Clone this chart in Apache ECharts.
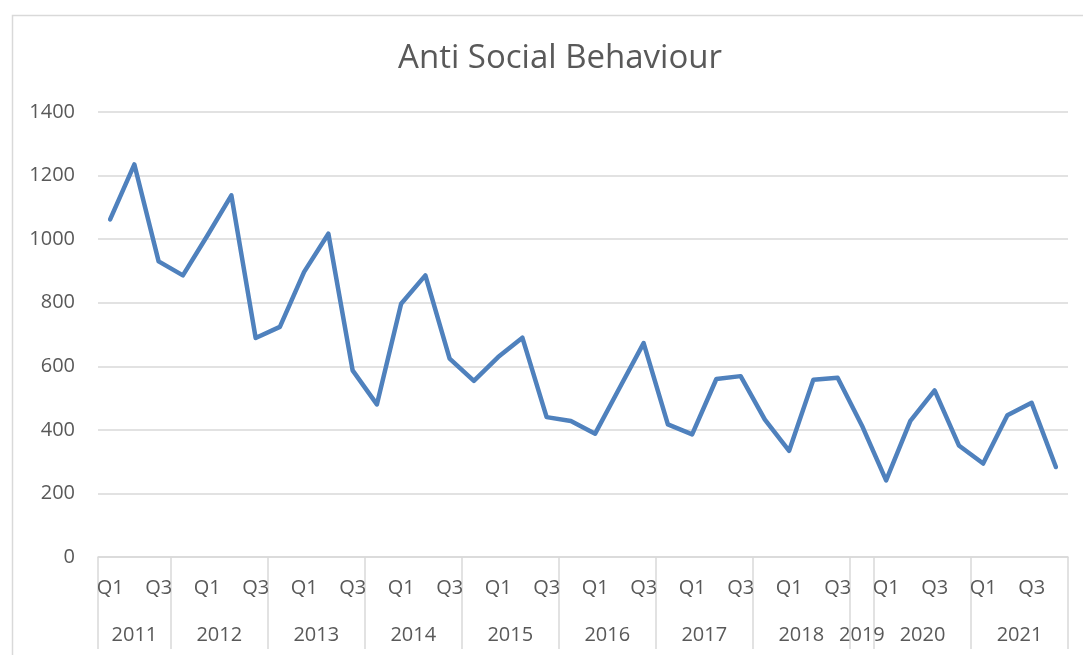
<!DOCTYPE html>
<html>
<head>
<meta charset="utf-8">
<script src="https://cdn.jsdelivr.net/npm/echarts@6/dist/echarts.min.js"></script>
<style>
html,body{margin:0;padding:0;background:#fff;}
#chart{width:1083px;height:655px;}
</style>
</head>
<body>
<div id="chart"></div>
<script>
// ---- data ----
const quarterLabels = ['Q1','Q2','Q3','Q4','Q1','Q2','Q3','Q4','Q1','Q2','Q3','Q4','Q1','Q2','Q3','Q4','Q1','Q2','Q3','Q4','Q1','Q2','Q3','Q4','Q1','Q2','Q3','Q4','Q1','Q2','Q3','Q4','Q1','Q2','Q3','Q4','Q1','Q2','Q3','Q4'];
const yearLabels = ['2011','2012','2013','2014','2015','2016','2017','2018','2019','2020','2021'];
const yearQuarterCounts = [3,4,4,4,4,4,4,4,1,4,4];
const antiSocial = [1062,1235,930,886,1010,1138,689,724,897,1017,587,480,797,886,624,554,629,690,440,428,388,531,673,417,386,560,569,432,334,558,564,414,241,428,524,351,294,446,485,283];
const yTicks = [0,200,400,600,800,1000,1200,1400];

// year group boundaries / centres on the category scale
const boundaries = [0];
const centres = [];
const centreMap = {};
yearQuarterCounts.forEach((c, i) => {
  const start = boundaries[boundaries.length - 1];
  const mid = start + c / 2;
  centres.push(mid);
  centreMap[mid] = yearLabels[i];
  boundaries.push(start + c);
});

const gridCol = '#d9d9d9';
const txt = '#595959';
const font = '"Open Sans", "Liberation Sans", sans-serif';

const chart = echarts.init(document.getElementById('chart'));
chart.setOption({
  animation: false,
  backgroundColor: '#fff',
  graphic: [{
    type: 'rect', left: 10, top: 13, z: -1,
    shape: { width: 1200, height: 800 },
    style: { fill: 'none', stroke: gridCol, lineWidth: 1.5 }
  }],
  title: {
    text: 'Anti Social Behaviour',
    left: 555, top: 37, textAlign: 'center',
    textStyle: { color: txt, fontFamily: font, fontSize: 33, fontWeight: 'normal' }
  },
  grid: { left: 98, right: 15, top: 112, bottom: 98, containLabel: false },
  xAxis: [{
    type: 'category',
    data: quarterLabels,
    boundaryGap: true,
    axisLine: { show: true, lineStyle: { color: gridCol, width: 1.5 } },
    axisTick: { show: false },
    axisLabel: { interval: 1, color: txt, fontFamily: font, fontSize: 20, margin: 21 },
    splitLine: { show: false }
  }, {
    type: 'value',
    position: 'bottom',
    min: 0, max: quarterLabels.length,
    axisLine: { show: false },
    axisTick: { show: true, customValues: boundaries, length: 92, inside: false,
      lineStyle: { color: gridCol, width: 1.5 } },
    axisLabel: { show: true, customValues: centres, color: txt, fontFamily: font, fontSize: 20, margin: 68,
      formatter: v => centreMap[v] || '' },
    splitLine: { show: false }
  }],
  yAxis: {
    type: 'value',
    min: yTicks[0], max: yTicks[yTicks.length - 1], interval: 200,
    axisLine: { show: false },
    axisTick: { show: false },
    axisLabel: { color: txt, fontFamily: font, fontSize: 20, margin: 23, formatter: v => String(v) },
    splitLine: { lineStyle: { color: gridCol, width: 1.5 } }
  },
  series: [{
    type: 'line',
    xAxisIndex: 0,
    data: antiSocial,
    symbol: 'none',
    lineStyle: { color: '#4f81bd', width: 4.5, cap: 'round', join: 'round' },
    itemStyle: { color: '#4f81bd' }
  }]
});
</script>
</body>
</html>
